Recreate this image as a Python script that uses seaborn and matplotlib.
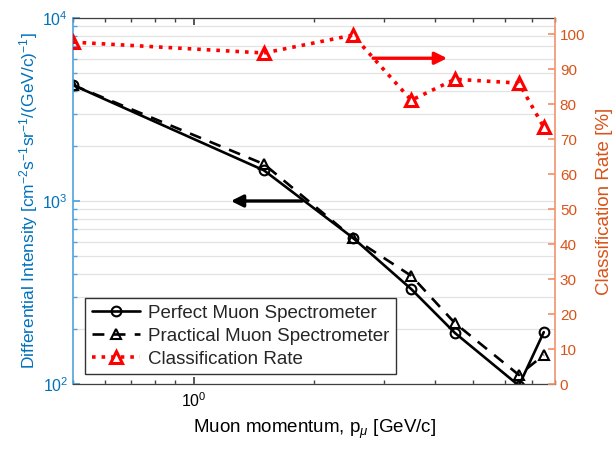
import matplotlib
matplotlib.use("Agg")
import matplotlib.pyplot as plt
import matplotlib.ticker as mticker
import seaborn as sns

# Momentum bin centres [GeV/c]
momentum = [0.5, 1.5, 2.5, 3.5, 4.5, 6.5, 7.5]
# Differential intensity [cm^-2 s^-1 sr^-1 (GeV/c)^-1]
perfect_intensity = [4300, 1470, 630, 330, 190, 98, 192]
practical_intensity = [4300, 1590, 630, 390, 215, 112, 144]
# Classification rate [%]
classification_rate = [97.7, 94.6, 99.7, 81.1, 87.1, 86.0, 73.4]

series_labels = ["Perfect Muon Spectrometer", "Practical Muon Spectrometer",
                 "Classification Rate"]
rate_ticks = list(range(0, 101, 10))

sns.set_theme(style="white")
plt.rcParams["font.family"] = ["Liberation Sans", "DejaVu Sans"]
plt.rcParams["mathtext.fontset"] = "custom"
plt.rcParams["mathtext.rm"] = "Liberation Sans"
plt.rcParams["mathtext.it"] = "Liberation Sans:italic"

BLUE = "#0072BD"
BLUE_SPINE = "#4FA3DC"
ORANGE = "#D95319"
ORANGE_SPINE = "#F0946A"
AXC = "#404040"

fig = plt.figure(figsize=(6.16, 4.49), dpi=100)
ax = fig.add_axes([73 / 616, 1 - 384 / 449, (555 - 73) / 616, (384 - 18) / 449])
ax2 = ax.twinx()

# Intensity curves (left axis)
sns.lineplot(x=momentum, y=perfect_intensity, ax=ax, color="black", lw=1.9,
             marker="o", markersize=7, markerfacecolor="none",
             markeredgecolor="black", markeredgewidth=1.5,
             label=series_labels[0])
sns.lineplot(x=momentum, y=practical_intensity, ax=ax, color="black", lw=1.9,
             dashes=(4.5, 3.5), marker="^", markersize=7, markerfacecolor="none",
             markeredgecolor="black", markeredgewidth=1.5,
             label=series_labels[1])

# Classification rate (right axis)
sns.lineplot(x=momentum, y=classification_rate, ax=ax2, color="red", lw=2.6,
             linestyle=":", marker="^", markersize=9, markerfacecolor="none",
             markeredgecolor="red", markeredgewidth=2.2,
             label=series_labels[2])

ax.set_xscale("log")
ax.set_yscale("log")
ax.set_xlim(0.5, 8)
ax.set_ylim(1e2, 1e4)
ax2.set_ylim(0, 104.6)
ax2.set_yticks(rate_ticks)

ax.xaxis.set_major_locator(mticker.LogLocator(base=10))
ax.xaxis.set_minor_locator(mticker.LogLocator(base=10, subs=range(2, 10)))
ax.xaxis.set_minor_formatter(mticker.NullFormatter())
ax.yaxis.set_minor_formatter(mticker.NullFormatter())

ax.grid(True, which="both", axis="y", color="#E3E3E3", lw=0.9)
ax.set_axisbelow(True)

ax.tick_params(axis="x", which="both", direction="in", top=True, bottom=True,
               colors=AXC, labelcolor="black", labelsize=11.5, pad=5)
ax.tick_params(axis="x", which="major", length=5)
ax.tick_params(axis="x", which="minor", length=3)
ax.tick_params(axis="y", which="both", direction="in", left=True, right=False,
               colors=BLUE_SPINE, labelcolor=BLUE, labelsize=11.5)
ax.tick_params(axis="y", which="major", length=5)
ax.tick_params(axis="y", which="minor", length=3)
ax2.tick_params(axis="y", direction="in", right=True, length=5,
                colors=ORANGE_SPINE, labelcolor=ORANGE, labelsize=11)

for s in ("top", "bottom"):
    ax.spines[s].set_color(AXC)
    ax.spines[s].set_linewidth(0.9)
    ax2.spines[s].set_visible(False)
ax.spines["right"].set_visible(False)
ax.spines["left"].set_color(BLUE_SPINE)
ax.spines["left"].set_linewidth(1.2)
ax2.spines["left"].set_visible(False)
ax2.spines["right"].set_color(ORANGE_SPINE)
ax2.spines["right"].set_linewidth(1.2)

ax.set_xlabel(r"Muon momentum, p$_{\mu}$ [GeV/c]", fontsize=13.5, color="black",
              labelpad=6)
ax.set_ylabel(r"Differential Intensity [cm$^{-2}$s$^{-1}$sr$^{-1}$/(GeV/c)$^{-1}$]",
              fontsize=12.5, color=BLUE, labelpad=2)
ax2.set_ylabel("Classification Rate [%]", fontsize=13.5, color=ORANGE, labelpad=8)

# Direction arrows indicating which axis each group of curves uses
ax.annotate("", xy=(1.24, 1000), xytext=(1.87, 1000),
            arrowprops=dict(arrowstyle="-|>", color="black", lw=2.4,
                            mutation_scale=18, shrinkA=0, shrinkB=0))
ax2.annotate("", xy=(4.3, 93.1), xytext=(2.81, 93.1),
             arrowprops=dict(arrowstyle="-|>", color="red", lw=2.4,
                             mutation_scale=18, shrinkA=0, shrinkB=0))

h1, l1 = ax.get_legend_handles_labels()
h2, l2 = ax2.get_legend_handles_labels()
if ax.get_legend() is not None:
    ax.get_legend().remove()
leg = ax2.legend(h1 + h2, l1 + l2, loc="lower left",
                 bbox_to_anchor=(0.025, 0.027), borderaxespad=0,
                 fontsize=13.5, frameon=True, fancybox=False, framealpha=1,
                 edgecolor="#333333", handlelength=2.6, handletextpad=0.4,
                 borderpad=0.35, labelspacing=0.3)
leg.get_frame().set_linewidth(1.0)

fig.savefig("out.png", dpi=100)
